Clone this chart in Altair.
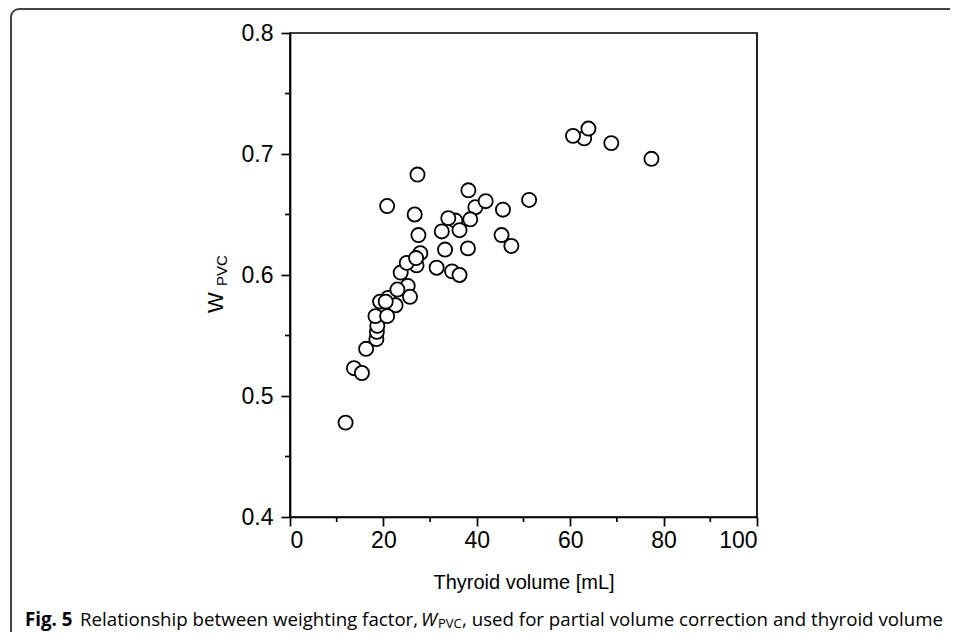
import altair as alt
import pandas as pd

# Data (thyroid volume [mL], W_PVC)
volume = [63.0, 19.3, 21.0, 25.2, 22.6, 27.1, 27.9, 35.4, 39.7, 18.5, 18.6, 18.7,
          11.9, 13.7, 15.4, 16.3, 18.3, 20.8, 20.5, 23.0, 25.7, 23.7, 25.0, 27.0,
          27.5, 26.7, 20.8, 27.3, 31.4, 34.7, 36.3, 33.2, 32.5, 33.9, 36.3, 38.1,
          38.6, 38.2, 41.9, 45.6, 45.3, 47.4, 51.2, 60.6, 63.9, 68.8, 77.4]
w_pvc = [0.713, 0.578, 0.581, 0.591, 0.575, 0.608, 0.618, 0.645, 0.656, 0.547, 0.553, 0.558,
         0.478, 0.523, 0.519, 0.539, 0.566, 0.566, 0.578, 0.588, 0.582, 0.602, 0.610, 0.614,
         0.633, 0.650, 0.657, 0.683, 0.606, 0.603, 0.600, 0.621, 0.636, 0.647, 0.637, 0.622,
         0.646, 0.670, 0.661, 0.654, 0.633, 0.624, 0.662, 0.715, 0.721, 0.709, 0.696]

x_major = [0, 20, 40, 60, 80, 100]
x_minor = [10, 30, 50, 70, 90]
y_major = [0.4, 0.5, 0.6, 0.7, 0.8]
y_minor = [0.45, 0.55, 0.65, 0.75]

x_title = "Thyroid volume [mL]"
caption_bold = "Fig. 5"
caption_a = "Relationship between weighting factor,"
caption_w = "W"
caption_sub = "PVC"
caption_b = ", used for partial volume correction and thyroid volume"

W, H = 467, 484
AX_FONT = "Liberation Sans"
CAP_FONT = "Open Sans"
BOX = "#444"

df = pd.DataFrame({"vol": volume, "w": w_pvc})
xs = alt.Scale(domain=[0, 100], nice=False, zero=False)
ys = alt.Scale(domain=[0.4, 0.8], nice=False, zero=False)

x_axis = alt.Axis(values=x_major, title=x_title, tickSize=9, tickWidth=1.7, tickColor="black",
                  domainColor="black", domainWidth=1.7, labelFont=AX_FONT, labelFontSize=23,
                  labelColor="black", labelPadding=3, titleFont=AX_FONT, titleFontSize=20,
                  titleFontWeight="normal", titleColor="black", titlePadding=20, grid=False)
y_axis = alt.Axis(values=y_major, format=".1f", title=None, tickSize=9, tickWidth=1.7,
                  tickColor="black", domainColor="black", domainWidth=1.7, labelFont=AX_FONT,
                  labelFontSize=23, labelColor="black", labelPadding=8, grid=False)

one = alt.Data(values=[{"a": 1}])

# outer figure box: top edge, left edge and rounded left corners
box_top = alt.Chart(one).mark_rule(color=BOX, strokeWidth=2).encode(
    x=alt.value(-271), x2=alt.value(700), y=alt.value(-24))
box_left = alt.Chart(one).mark_rule(color=BOX, strokeWidth=2).encode(
    x=alt.value(-279), y=alt.value(-16), y2=alt.value(598))
corner_tl = alt.Chart(one).mark_arc(fill=None, stroke=BOX, strokeWidth=2, radius=8, radius2=8).encode(
    x=alt.value(-271), y=alt.value(-16), theta=alt.value(4.712), theta2=alt.value(6.283))
corner_bl = alt.Chart(one).mark_arc(fill=None, stroke=BOX, strokeWidth=2, radius=8, radius2=8).encode(
    x=alt.value(-271), y=alt.value(598), theta=alt.value(3.1416), theta2=alt.value(4.712))

frame = alt.Chart(one).mark_rect(fill=None, stroke="black", strokeWidth=1.7).encode(
    x=alt.value(0), x2=alt.value(W), y=alt.value(0), y2=alt.value(H))

points = alt.Chart(df).mark_point(shape="circle", filled=True, fill="white", stroke="black",
                                  strokeWidth=1.8, size=200, opacity=1).encode(
    x=alt.X("vol:Q", scale=xs, axis=x_axis),
    y=alt.Y("w:Q", scale=ys, axis=y_axis))

mx = alt.Chart(pd.DataFrame({"v": x_minor})).mark_rule(color="black", strokeWidth=1.7).encode(
    x=alt.X("v:Q", scale=xs, axis=x_axis), y=alt.value(H), y2=alt.value(H + 5))
my = alt.Chart(pd.DataFrame({"v": y_minor})).mark_rule(color="black", strokeWidth=1.7).encode(
    y=alt.Y("v:Q", scale=ys, axis=y_axis), x=alt.value(-5), x2=alt.value(0))

def txt(s, x, y, size, font, weight="normal", style="normal", angle=0, align="left"):
    return alt.Chart(one).mark_text(text=s, font=font, fontSize=size, fontWeight=weight,
                                    fontStyle=style, angle=angle, align=align,
                                    baseline="alphabetic", color="black").encode(
        x=alt.value(x), y=alt.value(y))

ytitle_w = txt("W", -67, 280, 22, AX_FONT, angle=270, align="left")
ytitle_s = txt(caption_sub, -63, 253, 15, AX_FONT, angle=270, align="left")

cap_y = 593
CS = 18.7
cap1 = txt(caption_bold, -265, cap_y, CS, CAP_FONT, weight="bold")
cap2 = txt(caption_a, -210, cap_y, CS, CAP_FONT)
cap3 = txt(caption_w, 131, cap_y, CS, CAP_FONT, style="italic")
cap4 = txt(caption_sub, 148, cap_y + 2, 13, CAP_FONT)
cap5 = txt(caption_b, 172, cap_y, CS, CAP_FONT)

chart = alt.layer(box_top, box_left, corner_tl, corner_bl, frame, mx, my, points,
                  ytitle_w, ytitle_s, cap1, cap2, cap3, cap4, cap5).properties(
    width=W, height=H,
    padding={"left": 282, "top": 25, "right": 193, "bottom": 115},
    autosize=alt.AutoSizeParams(type="none"),
).configure_view(stroke=None).configure(background="white")

chart.save("out.html", embed_options={"renderer": "svg", "actions": False})
